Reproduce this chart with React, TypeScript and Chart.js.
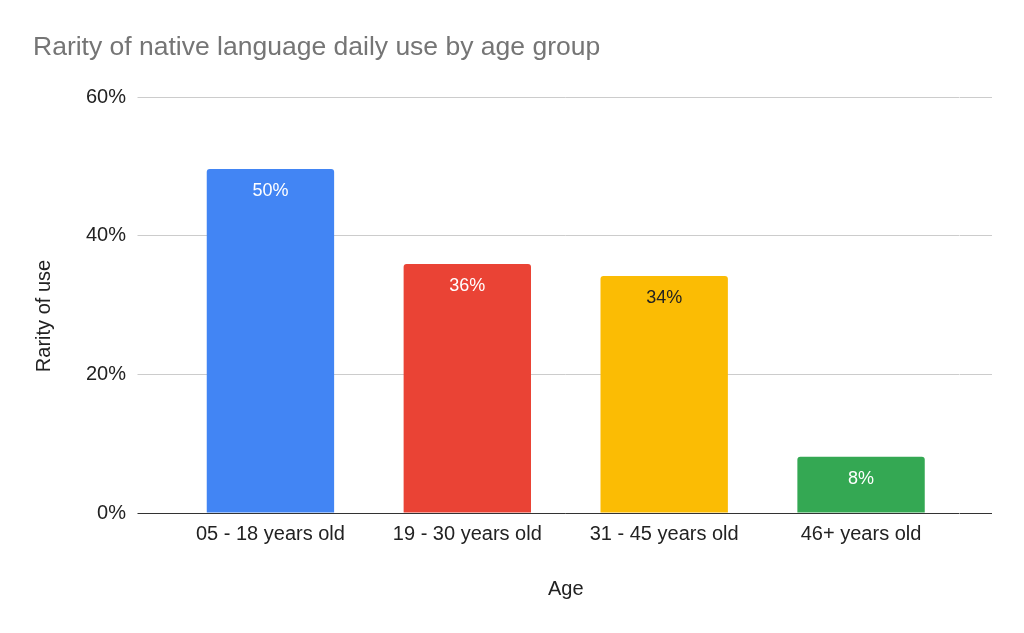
import React, { useEffect, useRef } from "react";
import { Chart, registerables } from "chart.js";

Chart.register(...registerables);

const chartTitle = "Rarity of native language daily use by age group";
const xAxisTitle = "Age";
const yAxisTitle = "Rarity of use";
const categories = ["05 - 18 years old", "19 - 30 years old", "31 - 45 years old", "46+ years old"];
const rarityValues = [49.6, 35.9, 34.2, 8.1];
const barColors = ["#4285F4", "#EA4335", "#FBBC04", "#34A853"];
const labelColors = ["#ffffff", "#ffffff", "#222222", "#ffffff"];
const yTicks = [0, 20, 40, 60];

const FONT = "'Liberation Sans', Arial, Helvetica, sans-serif";

const barLabelPlugin = {
  id: "barLabels",
  afterDatasetsDraw(chart: any) {
    const ctx = chart.ctx;
    const meta = chart.getDatasetMeta(0);
    ctx.save();
    ctx.font = `18px ${FONT}`;
    ctx.textAlign = "center";
    ctx.textBaseline = "middle";
    meta.data.forEach((bar: any, i: number) => {
      ctx.fillStyle = labelColors[i];
      ctx.fillText(`${Math.round(rarityValues[i])}%`, bar.x, bar.y + 22);
    });
    ctx.restore();
  },
};

const yTitlePlugin = {
  id: "yTitle",
  afterDraw(chart: any) {
    const ctx = chart.ctx;
    const area = chart.chartArea;
    ctx.save();
    ctx.translate(44, (area.top + area.bottom) / 2 + 11);
    ctx.rotate(-Math.PI / 2);
    ctx.font = `20px ${FONT}`;
    ctx.fillStyle = "#222222";
    ctx.textAlign = "center";
    ctx.textBaseline = "middle";
    ctx.fillText(yAxisTitle, 0, 0);
    ctx.restore();
  },
};

export default function App() {
  const canvasRef = useRef<HTMLCanvasElement | null>(null);

  useEffect(() => {
    if (!canvasRef.current) return;
    const gridColor = (c: any) => (c.tick && c.tick.value === 0 ? "#333333" : "#cccccc");
    const chart = new Chart(canvasRef.current, {
      type: "bar",
      data: {
        labels: categories,
        datasets: [
          {
            label: yAxisTitle,
            data: rarityValues,
            backgroundColor: barColors,
            borderRadius: 3,
            borderSkipped: "bottom",
            barPercentage: 0.647,
            categoryPercentage: 1,
          },
        ],
      },
      options: {
        animation: false,
        responsive: true,
        maintainAspectRatio: false,
        layout: { padding: { left: 33, right: 32, top: 0, bottom: 28 } },
        plugins: {
          legend: { display: false },
          tooltip: { enabled: false },
          title: {
            display: true,
            text: chartTitle,
            align: "start",
            color: "#757575",
            font: { family: FONT, size: 26.5, weight: "normal" },
            padding: { top: 32, bottom: 33.2 },
          },
        },
        scales: {
          x: {
            type: "category",
            grid: { display: false, drawTicks: false },
            border: { display: false },
            ticks: { color: "#222222", font: { family: FONT, size: 20 }, padding: 9, maxRotation: 0 },
            title: {
              display: true,
              text: xAxisTitle,
              color: "#222222",
              font: { family: FONT, size: 20 },
              padding: { top: 4, bottom: 4 },
            },
            afterFit(scale: any) {
              scale.height = 92;
            },
          },
          y: {
            position: "left",
            min: 0,
            max: 60,
            afterBuildTicks(scale: any) {
              scale.ticks = yTicks.map((v) => ({ value: v }));
            },
            grid: { color: gridColor, tickLength: 34.5, drawTicks: true, lineWidth: 1 },
            border: { display: false },
            ticks: {
              color: "#222222",
              font: { family: FONT, size: 20 },
              padding: 11.5,
              callback: (v: any) => `${v}%`,
            },
            afterFit(scale: any) {
              scale.width = 139;
            },
          },
          yRight: {
            position: "right",
            min: 0,
            max: 60,
            afterBuildTicks(scale: any) {
              scale.ticks = yTicks.map((v) => ({ value: v }));
            },
            grid: { color: gridColor, tickLength: 32.5, drawTicks: true, drawOnChartArea: false },
            border: { display: false },
            ticks: { display: false },
            afterFit(scale: any) {
              scale.width = 32.5;
            },
          },
        },
      },
      plugins: [barLabelPlugin, yTitlePlugin],
    });
    return () => chart.destroy();
  }, []);

  return (
    <div style={{ position: "fixed", left: 0, top: 0, width: 1024, height: 633, background: "#ffffff" }}>
      <canvas ref={canvasRef} />
    </div>
  );
}
